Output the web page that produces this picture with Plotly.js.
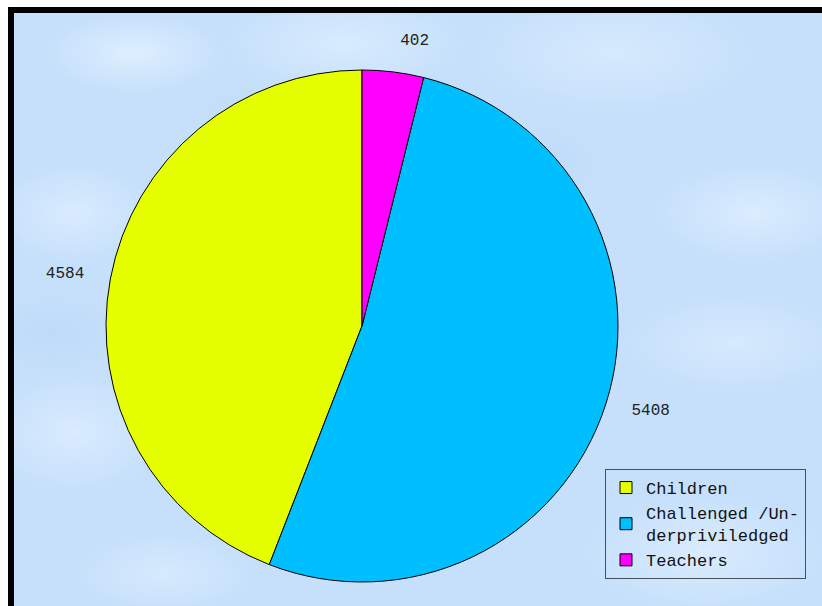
<!DOCTYPE html>
<html>
<head>
<meta charset="utf-8">
<script src="https://cdn.plot.ly/plotly-3.0.1.min.js"></script>
<style>
  html, body { margin:0; padding:0; width:822px; height:606px; overflow:hidden; background:#ffffff; }
  #frame {
    position:absolute; left:8px; top:7px; width:822px; height:606px;
    border-left:6px solid #000; border-top:6px solid #000;
    background-color:#c6e0fb;
    background-image:
      radial-gradient(ellipse 90px 40px at 120px 40px, rgba(228,242,255,0.8), rgba(228,242,255,0) 100%),
      radial-gradient(ellipse 120px 50px at 330px 30px, rgba(225,240,255,0.7), rgba(225,240,255,0) 100%),
      radial-gradient(ellipse 140px 60px at 600px 40px, rgba(222,238,254,0.7), rgba(222,238,254,0) 100%),
      radial-gradient(ellipse 80px 50px at 60px 200px, rgba(226,240,255,0.7), rgba(226,240,255,0) 100%),
      radial-gradient(ellipse 100px 50px at 740px 200px, rgba(226,240,255,0.75), rgba(226,240,255,0) 100%),
      radial-gradient(ellipse 90px 60px at 60px 420px, rgba(226,240,255,0.7), rgba(226,240,255,0) 100%),
      radial-gradient(ellipse 110px 50px at 720px 330px, rgba(222,238,254,0.7), rgba(222,238,254,0) 100%),
      radial-gradient(ellipse 120px 60px at 690px 540px, rgba(226,240,255,0.7), rgba(226,240,255,0) 100%),
      radial-gradient(ellipse 90px 40px at 150px 560px, rgba(222,238,254,0.7), rgba(222,238,254,0) 100%),
      radial-gradient(ellipse 70px 40px at 250px 110px, rgba(185,215,248,0.7), rgba(185,215,248,0) 100%),
      radial-gradient(ellipse 70px 40px at 520px 150px, rgba(185,215,248,0.6), rgba(185,215,248,0) 100%),
      radial-gradient(ellipse 80px 40px at 40px 320px, rgba(185,215,248,0.6), rgba(185,215,248,0) 100%);
  }
  #chart { position:absolute; left:0; top:0; width:822px; height:606px; }
</style>
</head>
<body>
<div id="frame"></div>
<div id="chart"></div>
<script>
// Data
var categories = ['Children', 'Challenged /Un-<br>derpriviledged', 'Teachers'];
var values = [4584, 5408, 402];
var sliceColors = ['#e6ff00', '#00bfff', '#ff00ff'];

var W = 822, H = 606;
// pie geometry (pixels)
var cx = 362, cy = 326, r = 256, rLab = 278;
function dom(rad) {
  return {
    x: [(cx - rad) / W, (cx + rad) / W],
    y: [(H - cy - rad) / H, (H - cy + rad) / H]
  };
}
var total = values.reduce(function (a, b) { return a + b; }, 0);
// first slice (counterclockwise) begins at 12 o'clock
var rot = -360 * values[0] / total;

var mainPie = {
  type: 'pie',
  labels: categories,
  values: values,
  sort: false,
  direction: 'counterclockwise',
  rotation: rot,
  marker: { colors: sliceColors, line: { color: '#000000', width: 1 } },
  textinfo: 'none',
  hoverinfo: 'none',
  domain: dom(r),
  showlegend: true
};

var labelPie = {
  type: 'pie',
  labels: categories,
  values: values,
  sort: false,
  direction: 'counterclockwise',
  rotation: rot,
  marker: { colors: ['rgba(0,0,0,0)', 'rgba(0,0,0,0)', 'rgba(0,0,0,0)'], line: { width: 0 } },
  textinfo: 'value',
  textposition: 'outside',
  outsidetextfont: { family: 'Liberation Mono, monospace', size: 16, color: '#222222' },
  hoverinfo: 'none',
  domain: dom(rLab),
  showlegend: false
};

var layout = {
  width: W, height: H,
  margin: { l: 0, r: 0, t: 0, b: 0 },
  paper_bgcolor: 'rgba(0,0,0,0)',
  plot_bgcolor: 'rgba(0,0,0,0)',
  showlegend: true,
  legend: {
    x: 605 / W, xanchor: 'left',
    y: (H - 469) / H, yanchor: 'top',
    bgcolor: 'rgba(0,0,0,0)',
    bordercolor: '#4a4f58', borderwidth: 1,
    font: { family: 'Liberation Mono, monospace', size: 17, color: '#111111' },
    traceorder: 'normal'
  }
};

Plotly.newPlot('chart', [labelPie, mainPie], layout, { staticPlot: true });
</script>
</body>
</html>
